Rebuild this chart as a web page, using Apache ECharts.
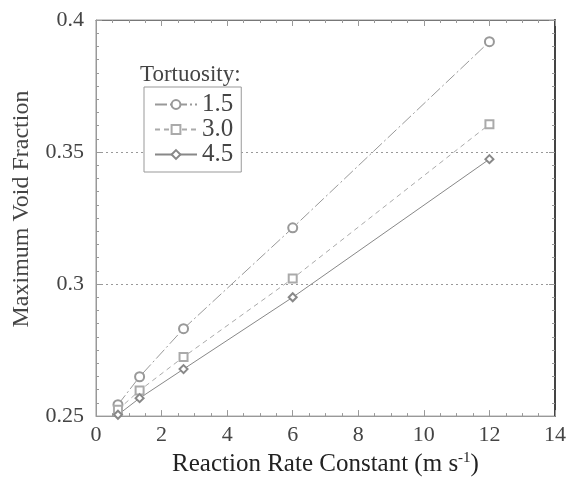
<!DOCTYPE html>
<html>
<head>
<meta charset="utf-8">
<script src="https://cdn.jsdelivr.net/npm/echarts@6/dist/echarts.min.js"></script>
<style>
  html, body { margin: 0; padding: 0; background: #fff; }
  #main { width: 569px; height: 482px; }
</style>
</head>
<body>
<div id="main"></div>
<script>
// reaction rate constant (m s^-1)
var rateConst = [0.67, 1.33, 2.67, 6, 12];
// maximum void fraction per tortuosity
var tort15 = [0.2543, 0.2649, 0.2831, 0.3213, 0.3918];
var tort30 = [0.2524, 0.2597, 0.2724, 0.3021, 0.3605];
var tort45 = [0.2505, 0.2568, 0.2678, 0.2950, 0.3473];
var seriesNames = ["1.5", "3.0", "4.5"];

var font = "Liberation Serif";

function pairs(ys) {
  return rateConst.map(function (x, i) { return [x, ys[i]]; });
}

var myChart = echarts.init(document.getElementById("main"));

var option = {
  animation: false,
  backgroundColor: "#fff",
  title: {
    text: "Tortuosity:",
    left: 135,
    top: 58,
    textStyle: { fontFamily: font, fontSize: 23, fontWeight: "normal", color: "#444" },
  },
  legend: {
    data: seriesNames,
    orient: "vertical",
    left: 144,
    top: 87,
    padding: [5, 8, 5, 10],
    itemGap: 0,
    itemWidth: 42,
    itemHeight: 11,
    borderColor: "#999",
    borderWidth: 1,
    backgroundColor: "#fff",
    textStyle: { fontFamily: font, fontSize: 25, color: "#444" },
  },
  grid: {
    left: 96,
    right: 13,
    top: 20,
    bottom: 65,
    show: true,
    borderColor: "#999",
    borderWidth: 1,
  },
  xAxis: [
    {
      type: "value",
      min: 0,
      max: 14,
      interval: 2,
      name: "Reaction Rate Constant (m s{sup|-1})",
      nameLocation: "middle",
      nameGap: 32,
      nameTextStyle: {
        fontFamily: font,
        fontSize: 25,
        color: "#222",
        rich: { sup: { fontFamily: font, fontSize: 15, color: "#222", verticalAlign: "top", padding: [0, 0, 12, 0] } },
      },
      axisLine: { onZero: false, lineStyle: { color: "#999" } },
      axisTick: { inside: true, length: 6, lineStyle: { color: "#999" } },
      minorTick: { show: true, splitNumber: 4, length: 3, lineStyle: { color: "#999" } },
      axisLabel: { fontFamily: font, fontSize: 22, color: "#444", margin: 8 },
      splitLine: { show: false },
    },
    {
      type: "value",
      position: "top",
      min: 0,
      max: 14,
      interval: 2,
      axisLine: { onZero: false, lineStyle: { color: "#777" } },
      axisTick: { inside: true, length: 6, lineStyle: { color: "#999" } },
      minorTick: { show: true, splitNumber: 4, length: 3, lineStyle: { color: "#999" } },
      axisLabel: { show: false },
      splitLine: { show: false },
    },
  ],
  yAxis: [
    {
      type: "value",
      min: 0.25,
      max: 0.4,
      interval: 0.05,
      name: "Maximum Void Fraction",
      nameLocation: "middle",
      nameGap: 62,
      nameTextStyle: { fontFamily: font, fontSize: 24, color: "#444", padding: [0, 0, 0, 18] },
      axisLine: { show: true, onZero: false, lineStyle: { color: "#999" } },
      axisTick: { inside: true, length: 6, lineStyle: { color: "#999" } },
      minorTick: { show: true, splitNumber: 10, length: 3, lineStyle: { color: "#999" } },
      axisLabel: {
        fontFamily: font,
        fontSize: 22,
        color: "#444",
        margin: 12,
        formatter: function (v) { return String(+v.toFixed(2)); },
      },
      splitLine: {
        show: true,
        lineStyle: { type: [2, 3], color: "#999" },
      },
    },
    {
      type: "value",
      position: "right",
      min: 0.25,
      max: 0.4,
      interval: 0.05,
      axisLine: { show: true, onZero: false, lineStyle: { color: "#444", width: 2 } },
      axisTick: { inside: true, length: 6, lineStyle: { color: "#999" } },
      minorTick: { show: true, splitNumber: 10, length: 3, lineStyle: { color: "#999" } },
      axisLabel: { show: false },
      splitLine: { show: false },
    },
  ],
  series: [
    {
      name: "1.5",
      type: "line",
      data: pairs(tort15),
      symbol: "emptyCircle",
      symbolSize: 9,
      clip: false,
      color: "#999",
      lineStyle: { color: "#999", width: 1, type: [12, 3, 2, 3] },
      itemStyle: { color: "#999", borderWidth: 1 },
    },
    {
      name: "3.0",
      type: "line",
      data: pairs(tort30),
      symbol: "emptyRect",
      symbolSize: 8,
      clip: false,
      color: "#aaa",
      lineStyle: { color: "#aaa", width: 1, type: [5, 4] },
      itemStyle: { color: "#aaa", borderWidth: 1 },
    },
    {
      name: "4.5",
      type: "line",
      data: pairs(tort45),
      symbol: "emptyDiamond",
      symbolSize: 8,
      clip: false,
      color: "#888",
      lineStyle: { color: "#888", width: 1 },
      itemStyle: { color: "#888", borderWidth: 1 },
    },
  ],
};

myChart.setOption(option);
window.addEventListener("resize", myChart.resize);
</script>
</body>
</html>
